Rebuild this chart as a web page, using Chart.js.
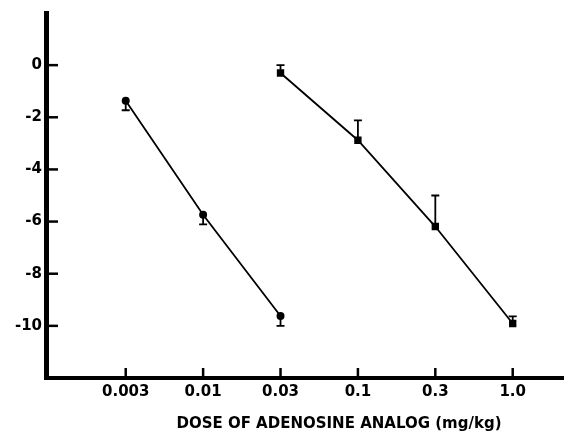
<!DOCTYPE html>
<html><head><meta charset="utf-8">
<script src="https://cdn.jsdelivr.net/npm/chart.js@4.4.1/dist/chart.umd.min.js"></script>
<style>html,body{margin:0;padding:0;background:#fff}</style>
</head><body>
<canvas id="c" width="569" height="432"></canvas>
<script>
// ---- data ----
const doseLabels = ['0.003', '0.01', '0.03', '0.1', '0.3', '1.0'];
const doseIndex = [0, 1, 2, 3, 4, 5];
const yTickValues = [0, -2, -4, -6, -8, -10];
const circleDose = [0, 1, 2];            // index into doseLabels
const circleValues = [-1.37, -5.74, -9.62];
const circleErrDown = [0.36, 0.37, 0.38];
const squareDose = [2, 3, 4, 5];
const squareValues = [-0.30, -2.88, -6.19, -9.91];
const squareErrUp = [0.30, 0.76, 1.19, 0.27];
const xTitle = 'DOSE OF ADENOSINE ANALOG (mg/kg)';

const FONT = {family: "'DejaVu Sans', sans-serif", size: 15, weight: 'bold'};

const circleData = circleDose.map((d, i) => ({x: d, y: circleValues[i], lo: circleErrDown[i], hi: 0}));
const squareData = squareDose.map((d, i) => ({x: d, y: squareValues[i], lo: 0, hi: squareErrUp[i]}));

const decor = {
  id: 'decor',
  beforeDatasetsDraw(chart) {
    const ctx = chart.ctx, xs = chart.scales.x, ys = chart.scales.y;
    ctx.save();
    ctx.strokeStyle = '#000';
    ctx.lineWidth = 1.8;
    chart.data.datasets.forEach(ds => {
      ds.data.forEach(p => {
        const px = xs.getPixelForValue(p.x);
        const py = ys.getPixelForValue(p.y);
        const ends = [];
        if (p.lo) ends.push(ys.getPixelForValue(p.y - p.lo));
        if (p.hi) ends.push(ys.getPixelForValue(p.y + p.hi));
        ends.forEach(e => {
          ctx.beginPath();
          ctx.moveTo(px, py); ctx.lineTo(px, e);
          ctx.moveTo(px - 4, e); ctx.lineTo(px + 4, e);
          ctx.stroke();
        });
      });
    });
    ctx.restore();
  },
  afterDraw(chart) {
    const ctx = chart.ctx, xs = chart.scales.x, ys = chart.scales.y, a = chart.chartArea;
    ctx.save();
    ctx.strokeStyle = '#000';
    ctx.lineWidth = 2.5;
    // inward y ticks
    yTickValues.forEach(v => {
      const py = ys.getPixelForValue(v);
      ctx.beginPath(); ctx.moveTo(a.left, py); ctx.lineTo(a.left + 12, py); ctx.stroke();
    });
    // inward x ticks
    doseIndex.forEach(v => {
      const px = xs.getPixelForValue(v);
      ctx.beginPath(); ctx.moveTo(px, a.bottom); ctx.lineTo(px, a.bottom - 10); ctx.stroke();
    });
    // axis title
    ctx.fillStyle = '#000';
    ctx.font = 'bold 15px "DejaVu Sans"';
    ctx.textAlign = 'center';
    ctx.textBaseline = 'middle';
    ctx.fillText(xTitle, xs.getPixelForValue(2.755), 424);
    ctx.restore();
  }
};

new Chart(document.getElementById('c'), {
  type: 'scatter',
  data: {
    datasets: [
      {data: circleData, showLine: true, borderColor: '#000', borderWidth: 1.8,
       pointStyle: 'circle', pointRadius: 4, backgroundColor: '#000', pointBorderWidth: 0},
      {data: squareData, showLine: true, borderColor: '#000', borderWidth: 1.8,
       pointStyle: 'rect', pointRadius: 5.2, backgroundColor: '#000', pointBorderWidth: 0}
    ]
  },
  options: {
    responsive: false,
    animation: false,
    devicePixelRatio: 1,
    layout: {padding: {top: 13, right: 1, left: 0, bottom: 0}},
    plugins: {legend: {display: false}, tooltip: {enabled: false}},
    scales: {
      x: {
        type: 'linear', min: -1.03, max: 5.66,
        afterBuildTicks: s => { s.ticks = doseIndex.map(v => ({value: v})); },
        afterFit: s => { s.height = 54; },
        grid: {display: false, drawTicks: false},
        border: {display: true, color: '#000', width: 4},
        ticks: {color: '#000', font: FONT, padding: 5,
                callback: v => doseLabels[v] ?? ''}
      },
      y: {
        type: 'linear', min: -12, max: 2,
        afterBuildTicks: s => { s.ticks = yTickValues.map(v => ({value: v})); },
        afterFit: s => { s.width = 46; },
        grid: {display: false, drawTicks: false},
        border: {display: true, color: '#000', width: 5},
        ticks: {color: '#000', font: FONT, padding: 4,
                callback: v => String(v)}
      }
    }
  },
  plugins: [decor]
});
</script>
</body></html>
